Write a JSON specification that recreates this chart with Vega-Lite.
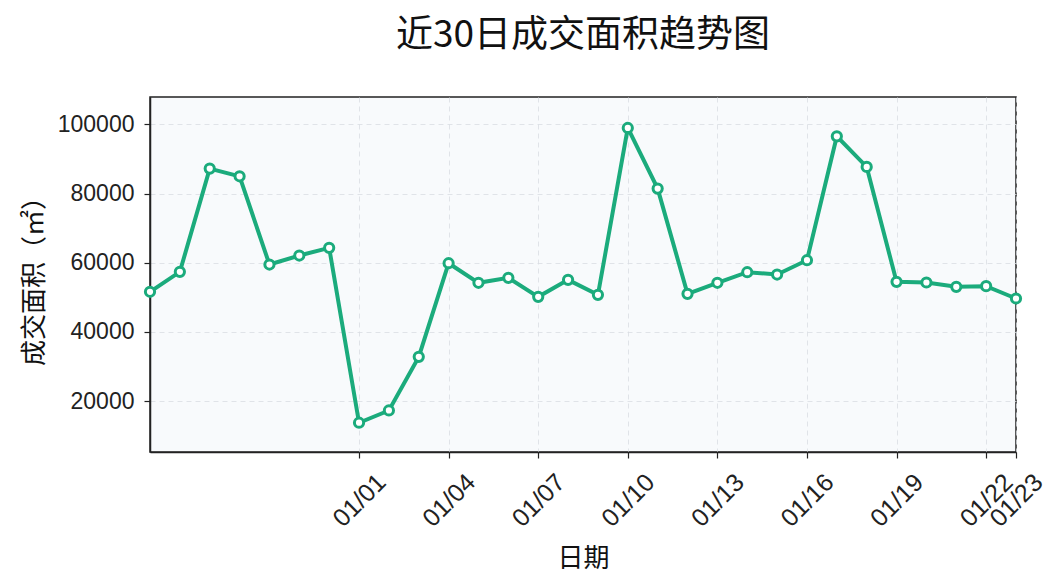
{
  "$schema": "https://vega.github.io/schema/vega-lite/v6.json",
  "width": 866,
  "height": 355,
  "autosize": {"type": "none"},
  "padding": {"left": 150, "top": 97, "right": 48, "bottom": 133},
  "background": "white",
  "title": {
    "text": "近30日成交面积趋势图",
    "font": "Noto Sans CJK SC",
    "fontSize": 37,
    "fontWeight": "normal",
    "color": "#111111",
    "offset": 42,
    "anchor": "middle"
  },
  "config": {
    "view": {"fill": "#f8fafc", "stroke": "#222222", "strokeWidth": 1.5},
    "axis": {
      "labelFont": "Liberation Sans",
      "labelFontSize": 23,
      "labelColor": "#222222",
      "titleFont": "Noto Sans CJK SC",
      "titleFontWeight": "normal",
      "titleColor": "#111111",
      "domainColor": "#222222",
      "domainWidth": 1.5,
      "tickColor": "#222222",
      "tickWidth": 1.2,
      "tickSize": 6,
      "gridColor": "#d9dde2",
      "gridDash": [5, 4],
      "gridWidth": 0.8,
      "labelFlush": false
    }
  },
  "data": {
    "values": [
      {"date": "2024-12-25", "area": 51600},
      {"date": "2024-12-26", "area": 57370},
      {"date": "2024-12-27", "area": 87200},
      {"date": "2024-12-28", "area": 84980},
      {"date": "2024-12-29", "area": 59480},
      {"date": "2024-12-30", "area": 62080},
      {"date": "2024-12-31", "area": 64300},
      {"date": "2025-01-01", "area": 13760},
      {"date": "2025-01-02", "area": 17300},
      {"date": "2025-01-03", "area": 32800},
      {"date": "2025-01-04", "area": 59860},
      {"date": "2025-01-05", "area": 54200},
      {"date": "2025-01-06", "area": 55630},
      {"date": "2025-01-07", "area": 50140},
      {"date": "2025-01-08", "area": 55050},
      {"date": "2025-01-09", "area": 50720},
      {"date": "2025-01-10", "area": 98950},
      {"date": "2025-01-11", "area": 81430},
      {"date": "2025-01-12", "area": 51010},
      {"date": "2025-01-13", "area": 54200},
      {"date": "2025-01-14", "area": 57260},
      {"date": "2025-01-15", "area": 56590},
      {"date": "2025-01-16", "area": 60730},
      {"date": "2025-01-17", "area": 96540},
      {"date": "2025-01-18", "area": 87700},
      {"date": "2025-01-19", "area": 54480},
      {"date": "2025-01-20", "area": 54290},
      {"date": "2025-01-21", "area": 53030},
      {"date": "2025-01-22", "area": 53220},
      {"date": "2025-01-23", "area": 49660}
    ]
  },
  "encoding": {
    "x": {
      "field": "date",
      "type": "temporal",
      "scale": {
        "type": "utc",
        "domain": [
          {"year": 2024, "month": 12, "date": 25, "utc": true},
          {"year": 2025, "month": 1, "date": 23, "utc": true}
        ]
      },
      "axis": {
        "title": "日期",
        "titleFontSize": 26,
        "titlePadding": 14,
        "labelExpr": "utcFormat(datum.value, '%m/%d')",
        "labelFontSize": 25,
        "labelAngle": -45,
        "labelAlign": "center",
        "labelBaseline": "middle",
        "labelPadding": 42,
        "labelOverlap": false,
        "values": [
          {"year": 2025, "month": 1, "date": 1, "utc": true},
          {"year": 2025, "month": 1, "date": 4, "utc": true},
          {"year": 2025, "month": 1, "date": 7, "utc": true},
          {"year": 2025, "month": 1, "date": 10, "utc": true},
          {"year": 2025, "month": 1, "date": 13, "utc": true},
          {"year": 2025, "month": 1, "date": 16, "utc": true},
          {"year": 2025, "month": 1, "date": 19, "utc": true},
          {"year": 2025, "month": 1, "date": 22, "utc": true},
          {"year": 2025, "month": 1, "date": 23, "utc": true}
        ]
      }
    },
    "y": {
      "field": "area",
      "type": "quantitative",
      "scale": {"domain": [5300, 107900], "nice": false, "zero": false},
      "axis": {
        "title": "成交面积（㎡）",
        "titleFontSize": 26,
        "titlePadding": 10,
        "values": [20000, 40000, 60000, 80000, 100000],
        "format": "d",
        "labelPadding": 10
      }
    }
  },
  "layer": [
    {
      "mark": {"type": "line", "color": "#1bab7c", "strokeWidth": 4}
    },
    {
      "mark": {"type": "point", "shape": "circle", "filled": true, "fill": "white", "stroke": "#1bab7c", "strokeWidth": 3, "size": 85, "opacity": 1}
    }
  ]
}
